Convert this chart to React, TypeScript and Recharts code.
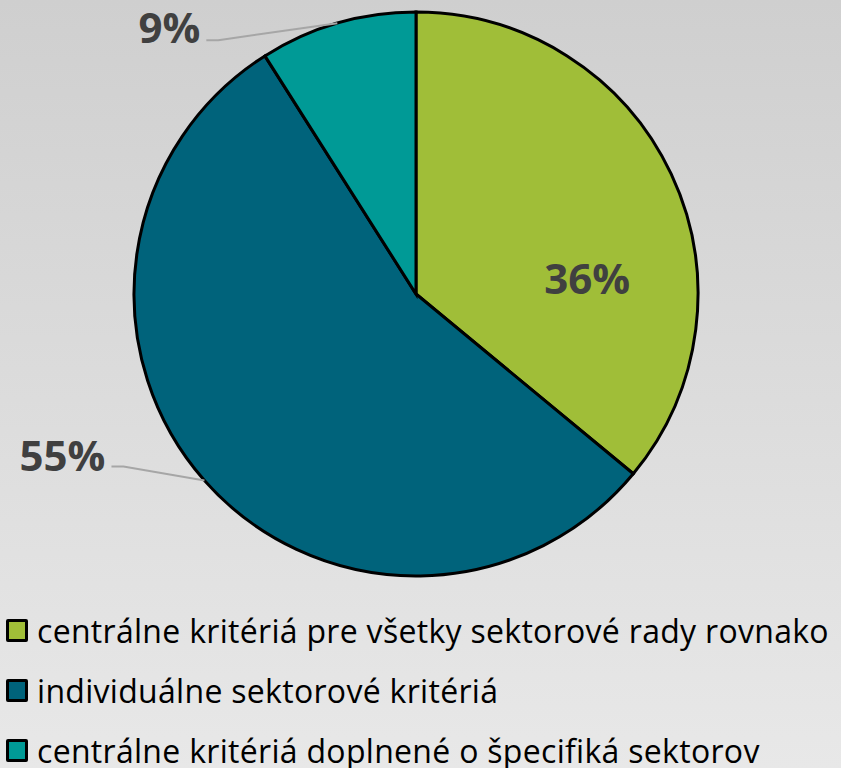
import { PieChart, Pie, Cell, Legend } from 'recharts';

const categories = [
  'centrálne kritériá pre všetky sektorové rady rovnako',
  'individuálne sektorové kritériá',
  'centrálne kritériá doplnené o špecifiká sektorov',
];
const shares = [36, 55, 9];
const colors = ['#a0be38', '#00637b', '#009a96'];

const data = categories.map((name, i) => ({ name, value: shares[i] }));

const FONT = '"Open Sans", Calibri, sans-serif';
const RAD = Math.PI / 180;

const renderLabel = (props: any) => {
  const { cx, cy, midAngle, outerRadius, index, value } = props;
  const cos = Math.cos(-midAngle * RAD);
  const sin = Math.sin(-midAngle * RAD);
  const style = { fontFamily: FONT, fontWeight: 700, fontSize: 42, fill: '#404040' };

  if (index === 0) {
    // inside the slice
    return (
      <text x={cx + outerRadius * 0.607} y={cy - outerRadius * 0.06} textAnchor="middle" dominantBaseline="central" style={style}>
        {value}%
      </text>
    );
  }
  // outside label with leader line, going left
  const sx = cx + outerRadius * cos;
  const sy = cy + outerRadius * sin;
  const ex = index === 1 ? sx - 81 : sx - 119;
  const ey = index === 1 ? sy - 14 : sy + 17;
  const tx = ex - 12;
  return (
    <g>
      <path d={`M${sx},${sy}L${ex},${ey}L${tx},${ey}`} stroke="#a6a6a6" strokeWidth={2} fill="none" />
      <text x={tx - 6} y={ey - (index === 1 ? 12 : 14)} textAnchor="end" dominantBaseline="central" style={style}>
        {value}%
      </text>
    </g>
  );
};

const renderLegend = () => (
  <div style={{ fontFamily: FONT, fontSize: 32, letterSpacing: 0.3, color: '#000' }}>
    {categories.map((c, i) => (
      <div key={c} style={{ display: 'flex', alignItems: 'center', height: 60, whiteSpace: 'nowrap' }}>
        <span
          style={{
            display: 'inline-block',
            width: 16,
            height: 17,
            background: colors[i],
            border: '3px solid #000',
            borderRadius: 2,
            marginRight: 9,
            flexShrink: 0,
          }}
        />
        <span>{c}</span>
      </div>
    ))}
  </div>
);

export default function App() {
  return (
    <div
      style={{
        position: 'fixed',
        left: 0,
        top: 0,
        width: 841,
        height: 768,
        background: 'linear-gradient(#cfcfcf, #e8e8e8)',
        overflow: 'hidden',
      }}
    >
      <PieChart width={841} height={768} margin={{ top: 0, right: 0, bottom: 0, left: 0 }}>
        <Pie
          data={data}
          dataKey="value"
          cx={416}
          cy={294}
          outerRadius={282}
          startAngle={90}
          endAngle={-270}
          stroke="#000"
          strokeWidth={3}
          label={renderLabel}
          labelLine={false}
          isAnimationActive={false}
        >
          {data.map((d, i) => (
            <Cell key={d.name} fill={colors[i]} />
          ))}
        </Pie>
        <Legend
          content={renderLegend}
          layout="vertical"
          verticalAlign="bottom"
          wrapperStyle={{ left: 6, top: 600, width: 835 }}
        />
      </PieChart>
    </div>
  );
}
